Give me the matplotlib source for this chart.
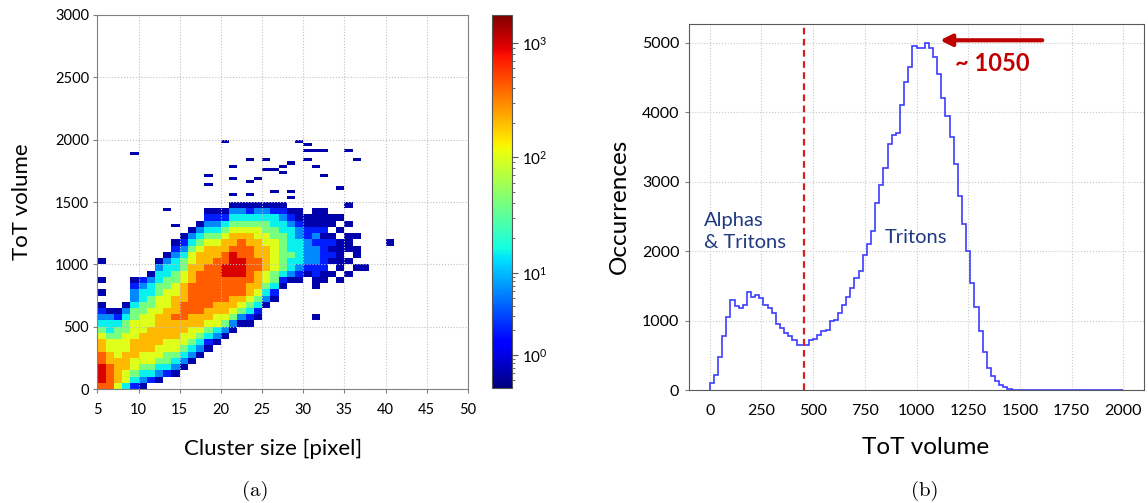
import numpy as np
import matplotlib
matplotlib.use('Agg')
import matplotlib.pyplot as plt
import matplotlib.colors as mcolors
from matplotlib.ticker import FixedLocator

plt.rcParams['font.family'] = ['Lato', 'DejaVu Sans']
plt.rcParams['mathtext.fontset'] = 'custom'
plt.rcParams['mathtext.rm'] = 'Lato'

# ---- panel (a): ToT volume vs cluster size ----
# one string per cluster size (5..40), one char per 50 ToT row (bottom -> top)
# '.' empty, '1'..'9' colour level (see level_counts)
cluster_sizes = list(range(5, 41))
tot_profile = [
    "89998877654321.1.1..1",                  # 5
    "8888776654431",                          # 6
    "6777766655421",                          # 7
    "46677766655431",                         # 8
    "245667776665543321",                     # 9
    "134566777666554432",                     # 10
    ".245667777666554431",                    # 11
    ".13456677777666554431",                  # 12
    "..24556677777666554431",                 # 13
    "..1345667778777665544321",               # 14
    "...1345667788877766554321",              # 15
    "....1345667788888777665431",             # 16
    ".....1345677888888877765431",            # 17
    "......12456778888888777654321",          # 18
    ".......1346677888888877654321",          # 19
    "........135677888899887765421",          # 20
    ".........135677888999987765431",         # 21
    "..........13567888999888765431",         # 22
    "..........12456778888887765421",         # 23
    "...........1245677788777665431",         # 24
    ".............13456677776655431",         # 25
    "..............1245566666554421",         # 26
    "................12455555544321",         # 27
    ".................134454444321.",         # 28
    ".................123444433211.",         # 29
    "..................1233332211..",         # 30
    "...........1....1122333232111.",         # 31
    ".................112222212111.",         # 32
    "..................1.12121.11..",         # 33
    ".................1.11111.1.1..",         # 34
    "..................1.1.111.1..1",         # 35
    "...................1.11.1.....",         # 36
    "...................1..........",         # 37
    "",                                       # 38
    "",                                       # 39
    ".......................1......",         # 40
]
level_counts = {'1': 0.6, '2': 2, '3': 6, '4': 15, '5': 40,
                '6': 100, '7': 200, '8': 420, '9': 950}

# isolated single entries above the main lobe
outlier_cs = [9, 13, 14, 18, 18, 20, 21, 21, 21, 23, 23, 23, 24, 25, 25, 26, 26,
              27, 27, 28, 28, 28, 29, 30, 30, 31, 30, 31, 32, 32, 34, 36, 35]
outlier_tot = [1890, 1440, 1304, 1712, 1640, 1984, 1786, 1698, 1560, 1842, 1650,
               1560, 1696, 1832, 1750, 1760, 1586, 1786, 1725, 1800, 1580, 1536,
               1980, 1960, 1912, 1912, 1830, 1790, 1912, 1712, 1606, 1832, 1912]

# ---- panel (b): ToT volume spectrum, 20-wide bins from 0 to 2000 ----
hist_counts = [
    110, 220, 480, 790, 1050, 1300, 1210, 1190, 1230, 1410,
    1340, 1370, 1330, 1230, 1190, 1120, 960, 900, 830, 780,
    720, 660, 650, 660, 730, 740, 800, 850, 870, 1000,
    1020, 1110, 1230, 1340, 1480, 1620, 1720, 1950, 2100, 2300,
    2700, 2950, 3200, 3550, 3680, 3700, 4100, 4430, 4650, 4950,
    4920, 4930, 5000, 4920, 4800, 4550, 4200, 3950, 3650, 3250,
    2800, 2400, 2000, 1550, 1200, 850, 550, 330, 210, 130,
    80, 45, 20, 10, 5, 0, 0, 0, 0, 0,
    0, 0, 0, 0, 0, 0, 0, 0, 0, 0,
    0, 8, 0, 0, 0, 0, 6, 0, 0, 0,
]
cut_tot = 455
peak_tot = 1050


def main():
    fig = plt.figure(figsize=(11.48, 5.03), dpi=100)
    ax1 = fig.add_axes([0.0848, 0.2266, 0.3229, 0.7436])
    cax = fig.add_axes([0.4286, 0.2286, 0.0174, 0.7416])
    ax2 = fig.add_axes([0.6002, 0.2237, 0.3963, 0.7286])

    # build the 2D grid (25 ToT bins, body rows are 50 ToT)
    x_edges = np.arange(5, 42)
    y_edges = np.arange(0, 3025, 25)
    grid = np.full((len(y_edges) - 1, len(x_edges) - 1), np.nan)
    for c, prof in enumerate(tot_profile):
        for r, ch in enumerate(prof):
            if ch != '.':
                grid[2 * r, c] = level_counts[ch]
                grid[2 * r + 1, c] = level_counts[ch]
    for cs, tot in zip(outlier_cs, outlier_tot):
        r = int(tot // 25)
        if np.isnan(grid[r, cs - 5]):
            grid[r, cs - 5] = level_counts['1']

    # colour axis as drawn in the figure (lowest decade squeezed)
    k_log = [-0.40, 0.0, 1.0, 2.0, 3.0, 3.245]
    k_pos = [0.0, 0.0885, 0.308, 0.619, 0.925, 1.0]

    def fwd(v):
        v = np.clip(np.asarray(v, dtype=float), 1e-3, None)
        return np.interp(np.log10(v), k_log, k_pos)

    def inv(p):
        return 10 ** np.interp(np.asarray(p, dtype=float), k_pos, k_log)

    norm = mcolors.FuncNorm((fwd, inv), vmin=10 ** k_log[0], vmax=10 ** k_log[-1])
    mesh = ax1.pcolormesh(x_edges, y_edges, np.ma.masked_invalid(grid),
                          cmap='jet', norm=norm, shading='flat')

    ax1.set_xlim(5, 50)
    ax1.set_ylim(0, 3000)
    ax1.set_xticks(range(5, 51, 5))
    ax1.set_yticks(range(0, 3001, 500))
    ax1.grid(True, linestyle=':', color='#c0c0c0', linewidth=0.8)
    for s in ax1.spines.values():
        s.set_color('#808080')
    ax1.tick_params(labelsize=10.5, length=3, color='#808080', pad=3)
    ax1.tick_params(axis='x', pad=7)
    ax1.set_xlabel('Cluster size [pixel]', fontsize=16)
    ax1.set_ylabel('ToT volume', fontsize=16)
    ax1.xaxis.set_label_coords(0.474, -0.134)
    ax1.yaxis.set_label_coords(-0.175, 0.5)

    cb = fig.colorbar(mesh, cax=cax)
    cb.set_ticks([1, 10, 100, 1000])
    cb.set_ticklabels([r'$\mathregular{10^{0}}$', r'$\mathregular{10^{1}}$',
                       r'$\mathregular{10^{2}}$', r'$\mathregular{10^{3}}$'])
    minors = [m * 10 ** e for e in range(-1, 4) for m in range(2, 10)]
    minors = [m for m in minors if 0.4 < m < 1750]
    cb.ax.yaxis.set_minor_locator(FixedLocator(minors))
    cb.ax.tick_params(which='major', length=4, labelsize=11, color='#555555')
    cb.ax.tick_params(which='minor', length=2, color='#555555')
    cb.outline.set_edgecolor('#555555')

    # panel (b)
    tot_edges = np.arange(0, 2001, 20)
    ax2.stairs(hist_counts, tot_edges, baseline=0, color='#3c3cff', linewidth=1.2)
    ax2.axvline(cut_tot, color='#d42020', linestyle='--', dashes=(3, 2), linewidth=1.6)
    ax2.annotate('', xy=(1114, 5036), xytext=(1608, 5036),
                 arrowprops=dict(arrowstyle='-|>', color='#c00000', lw=3,
                                 mutation_scale=17, shrinkA=0, shrinkB=0))
    ax2.text(1186, 4700, '~ %d' % peak_tot, color='#c00000', fontweight='bold',
             fontsize=17, va='center', ha='left')
    ax2.text(-29, 2290, 'Alphas\n& Tritons', color='#1f3a80', fontsize=14.5,
             va='center', ha='left', linespacing=1.35)
    ax2.text(847, 2203, 'Tritons', color='#1f3a80', fontsize=14.5,
             va='center', ha='left')

    ax2.set_xlim(-100, 2100)
    ax2.set_ylim(0, 5270)
    ax2.set_xticks(range(0, 2001, 250))
    ax2.set_yticks(range(0, 5001, 1000))
    ax2.grid(True, linestyle=':', color='#c8c8c8', linewidth=0.8)
    ax2.set_axisbelow(True)
    for s in ax2.spines.values():
        s.set_color('#595959')
    ax2.tick_params(labelsize=11.5, length=3, color='#808080', pad=4)
    ax2.tick_params(axis='x', length=0, pad=10)
    ax2.set_xlabel('ToT volume', fontsize=17.5)
    ax2.set_ylabel('Occurrences', fontsize=17.5)
    ax2.xaxis.set_label_coords(0.519, -0.127)
    ax2.yaxis.set_label_coords(-0.13, 0.503)

    fig.text(255 / 1148, 1 - 491 / 503, '(a)', family='cmr10', fontsize=15,
             ha='center', va='center')
    fig.text(925 / 1148, 1 - 491 / 503, '(b)', family='cmr10', fontsize=15,
             ha='center', va='center')

    fig.savefig('out.png', dpi=100)


if __name__ == "__main__":
    main()
